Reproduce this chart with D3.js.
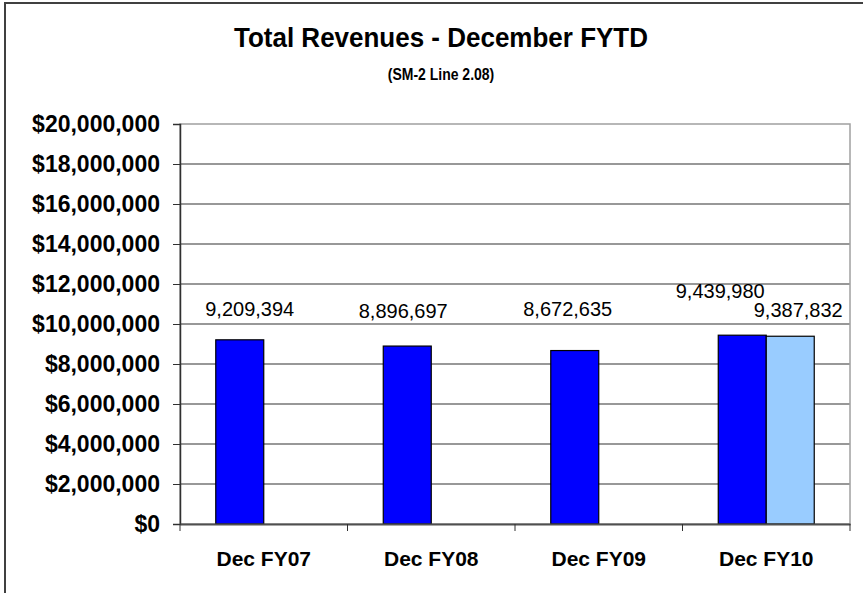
<!DOCTYPE html>
<html>
<head>
<meta charset="utf-8">
<script src="https://cdn.jsdelivr.net/npm/d3@7"></script>
<style>
  body { margin: 0; background: #fff; }
  svg { display: block; font-family: "Liberation Sans", Arial, sans-serif; }
</style>
</head>
<body>
<svg id="chart"></svg>
<script>
// Chart data
const categories = ["Dec FY07", "Dec FY08", "Dec FY09", "Dec FY10"];
const seriesNames = ["FYTD", "FYTD (revised)"];
const seriesA = [9209394, 8896697, 8672635, 9439980];
const seriesB = [null, null, null, 9387832];
const yTicks = [0, 2000000, 4000000, 6000000, 8000000, 10000000, 12000000, 14000000, 16000000, 18000000, 20000000];

// Label nudges (dx, dy above bar top) as placed in the original
const labelNudge = [[10, -24], [-4, -28], [-7, -35], [-22, -37], [8, -19]];

const width = 863, height = 593;
const margin = {top: 124, right: 13, bottom: 69, left: 180};

const svg = d3.select("#chart")
  .attr("width", width)
  .attr("height", height);

// Outer chart border (right and bottom edges fall outside the picture)
svg.append("rect")
  .attr("x", 5).attr("y", 3)
  .attr("width", 962).attr("height", 640)
  .attr("fill", "none")
  .attr("stroke", "#404040")
  .attr("stroke-width", 2);

// Titles
svg.append("text")
  .attr("x", 441).attr("y", 47)
  .attr("text-anchor", "middle")
  .style("font-size", "26px").style("font-weight", "bold")
  .attr("transform", "translate(0,47) scale(1,1.08) translate(0,-47)")
  .text("Total Revenues - December FYTD");

svg.append("text")
  .attr("x", 441).attr("y", 80)
  .attr("text-anchor", "middle")
  .style("font-size", "14px").style("font-weight", "bold")
  .attr("transform", "translate(0,80) scale(1,1.15) translate(0,-80)")
  .text("(SM-2 Line 2.08)");

const x0 = d3.scaleBand()
  .domain(categories)
  .range([margin.left, width - margin.right])
  .paddingInner(0.427)
  .paddingOuter(0.2135);

const x1 = d3.scaleBand()
  .domain(seriesNames)
  .range([0, x0.bandwidth()]);

const y = d3.scaleLinear()
  .domain([0, 20000000])
  .range([height - margin.bottom, margin.top]);

const color = d3.scaleOrdinal()
  .domain(seriesNames)
  .range(["#0000ff", "#99ccff"]);

// Gridlines
svg.append("g")
  .selectAll("line")
  .data(yTicks.filter(d => d > 0 && d < 20000000))
  .enter().append("line")
  .attr("x1", margin.left).attr("x2", width - margin.right)
  .attr("y1", d => y(d)).attr("y2", d => y(d))
  .attr("stroke", "#333")
  .attr("stroke-width", 1.2);

// Plot area border
svg.append("rect")
  .attr("x", margin.left).attr("y", margin.top)
  .attr("width", width - margin.right - margin.left)
  .attr("height", y(0) - margin.top)
  .attr("fill", "none")
  .attr("stroke", "#a0a0a0")
  .attr("stroke-width", 1.5);

// Bars
const rows = categories.map((c, i) => ({cat: c, values: [
  {key: seriesNames[0], value: seriesA[i]},
  {key: seriesNames[1], value: seriesB[i]}
].filter(v => v.value != null)}));

const bars = [];
rows.forEach(r => r.values.forEach(v => bars.push({cat: r.cat, key: v.key, value: v.value})));

svg.append("g")
  .selectAll("rect")
  .data(bars)
  .enter().append("rect")
  .attr("x", d => x0(d.cat) + x1(d.key))
  .attr("y", d => y(d.value))
  .attr("width", x1.bandwidth())
  .attr("height", d => y(0) - y(d.value))
  .attr("fill", d => color(d.key))
  .attr("stroke", "#000")
  .attr("stroke-width", 1.2);

// Value labels
svg.append("g")
  .selectAll("text")
  .data(bars)
  .enter().append("text")
  .attr("x", (d, i) => x0(d.cat) + x1(d.key) + x1.bandwidth() / 2 + labelNudge[i][0])
  .attr("y", (d, i) => y(d.value) + labelNudge[i][1])
  .attr("text-anchor", "middle")
  .style("font-size", "20px")
  .text(d => d3.format(",")(d.value));

// Y axis
const yAxis = svg.append("g")
  .attr("transform", `translate(${margin.left},0)`)
  .call(d3.axisLeft(y).tickValues(yTicks).tickFormat(d3.format("$,")).tickSize(7).tickPadding(13));
yAxis.select(".domain").attr("stroke", "#303030").attr("stroke-width", 1.5);
yAxis.selectAll(".tick line").attr("stroke", "#303030");
yAxis.selectAll("text")
  .style("font-size", "23px").style("font-weight", "bold")
  .attr("fill", "#000");

// X axis
const xAxis = svg.append("g")
  .attr("transform", `translate(0,${y(0)})`)
  .call(d3.axisBottom(x0).tickSize(0).tickPadding(27));
xAxis.select(".domain").attr("stroke", "#505050").attr("stroke-width", 2);
xAxis.selectAll("text")
  .style("font-size", "21px").style("font-weight", "bold")
  .attr("fill", "#000");

// Category boundary ticks
const step = x0.step();
const bounds = d3.range(categories.length + 1).map(i => margin.left + i * step);
xAxis.selectAll(".bound")
  .data(bounds)
  .enter().append("line")
  .attr("class", "bound")
  .attr("x1", d => d).attr("x2", d => d)
  .attr("y1", 0).attr("y2", 7)
  .attr("stroke", "#303030");
</script>
</body>
</html>
